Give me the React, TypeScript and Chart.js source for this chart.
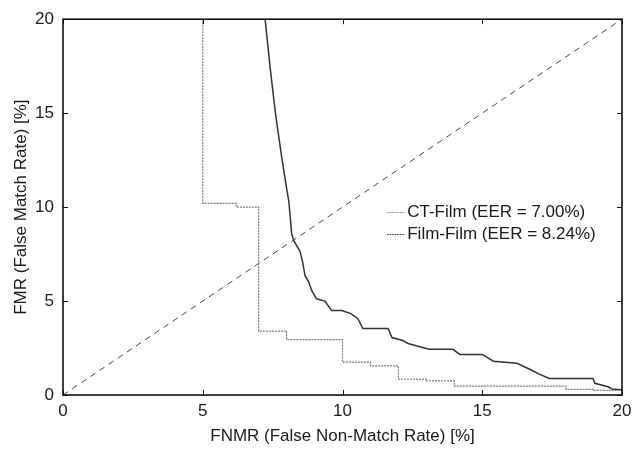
import React, { useEffect, useRef } from "react";
import { Chart, registerables } from "chart.js";

Chart.register(...registerables);

// CT-Film ROC/DET curve (FNMR %, FMR %)
const ctFilmX = [5, 5, 6.2, 6.2, 7.0, 7.0, 8.0, 8.0, 10.0, 10.0, 11.0, 11.0, 12.0, 12.0, 13.0, 13.0, 14.0, 14.0, 18.0, 18.0, 19.0, 19.0, 20];
const ctFilmY = [20, 10.2, 10.2, 10.0, 10.0, 3.4, 3.4, 2.95, 2.95, 1.75, 1.75, 1.55, 1.55, 0.85, 0.85, 0.75, 0.75, 0.47, 0.47, 0.3, 0.3, 0.25, 0.25];

// Film-Film curve
const filmFilmX = [7.23, 7.42, 7.6, 7.82, 8.0, 8.08, 8.18, 8.26, 8.48, 8.57, 8.66, 8.78, 8.9, 9.07, 9.37, 9.61, 9.97, 10.3, 10.55, 10.73, 11.63, 11.77, 12.16, 12.34, 13.1, 13.95, 14.2, 15.0, 15.4, 16.24, 16.7, 17.0, 17.4, 18.96, 19.03, 19.5, 19.64, 20];
const filmFilmY = [20, 17.3, 15.0, 12.7, 11.0, 10.3, 8.6, 8.2, 7.65, 7.1, 6.35, 6.05, 5.55, 5.12, 5.0, 4.5, 4.5, 4.33, 4.06, 3.54, 3.54, 3.06, 2.9, 2.74, 2.43, 2.43, 2.16, 2.16, 1.8, 1.69, 1.37, 1.14, 0.88, 0.88, 0.62, 0.44, 0.32, 0.28];

// EER reference diagonal
const diagX = [0, 20];
const diagY = [0, 20];

const seriesLabels = ["CT-Film (EER = 7.00%)", "Film-Film (EER = 8.24%)"];
const xTicks = [0, 5, 10, 15, 20];
const yTicks = [0, 5, 10, 15, 20];
const xTitle = "FNMR (False Non-Match Rate) [%]";
const yTitle = "FMR (False Match Rate) [%]";

const FONT = "'Liberation Sans', Arial, Helvetica, sans-serif";

const zip = (xs: number[], ys: number[]) => xs.map((x, i) => ({ x, y: ys[i] }));

const framePlugin = {
  id: "frameTicks",
  afterDatasetsDraw(chart: any) {
    const { ctx, chartArea } = chart;
    const xs = chart.scales.x;
    const ys = chart.scales.y;
    ctx.save();
    ctx.strokeStyle = "#111";
    ctx.lineWidth = 1;
    const tl = 5;
    ctx.beginPath();
    xTicks.forEach((v) => {
      const px = Math.round(xs.getPixelForValue(v)) + 0.5;
      ctx.moveTo(px, chartArea.bottom);
      ctx.lineTo(px, chartArea.bottom - tl);
      ctx.moveTo(px, chartArea.top);
      ctx.lineTo(px, chartArea.top + tl);
    });
    yTicks.forEach((v) => {
      const py = Math.round(ys.getPixelForValue(v)) + 0.5;
      ctx.moveTo(chartArea.left, py);
      ctx.lineTo(chartArea.left + tl, py);
      ctx.moveTo(chartArea.right, py);
      ctx.lineTo(chartArea.right - tl, py);
    });
    ctx.stroke();
    ctx.lineWidth = 1.6;
    ctx.strokeRect(chartArea.left, chartArea.top, chartArea.right - chartArea.left, chartArea.bottom - chartArea.top);
    ctx.restore();
  },
};

const legendPlugin = {
  id: "innerLegend",
  afterDraw(chart: any) {
    const { ctx, chartArea } = chart;
    const w = chartArea.right - chartArea.left;
    const x0 = chartArea.left + w * 0.58;
    const y0 = 212;
    const rowH = 22;
    ctx.save();
    ctx.font = `17px ${FONT}`;
    ctx.textBaseline = "middle";
    ctx.fillStyle = "#1a1a1a";
    chart.data.datasets.slice(0, 2).forEach((ds: any, i: number) => {
      const y = y0 + i * rowH;
      ctx.strokeStyle = ds.borderColor;
      ctx.lineWidth = 1.2;
      ctx.setLineDash([1.5, 1]);
      ctx.beginPath();
      ctx.moveTo(x0, y + 0.5);
      ctx.lineTo(x0 + 18, y + 0.5);
      ctx.stroke();
      ctx.setLineDash([]);
      ctx.fillText(ds.label, x0 + 20, y);
    });
    ctx.restore();
  },
};

export default function App() {
  const canvasRef = useRef<HTMLCanvasElement | null>(null);

  useEffect(() => {
    if (!canvasRef.current) return;
    const chart = new Chart(canvasRef.current, {
      type: "line",
      data: {
        datasets: [
          {
            label: seriesLabels[0],
            data: zip(ctFilmX, ctFilmY),
            borderColor: "#7a7a7a",
            borderWidth: 1.2,
            borderDash: [2, 1],
            pointRadius: 0,
            fill: false,
            tension: 0,
          },
          {
            label: seriesLabels[1],
            data: zip(filmFilmX, filmFilmY),
            borderColor: "#333333",
            borderWidth: 1.5,
            pointRadius: 0,
            fill: false,
            tension: 0,
          },
          {
            label: "EER",
            data: zip(diagX, diagY),
            borderColor: "#4a4a4a",
            borderWidth: 1,
            borderDash: [6, 5],
            pointRadius: 0,
            fill: false,
          },
        ],
      },
      options: {
        animation: false,
        responsive: true,
        maintainAspectRatio: false,
        layout: { padding: { left: 0, right: 20, top: 16, bottom: 0 } },
        plugins: { legend: { display: false }, tooltip: { enabled: false } },
        scales: {
          x: {
            type: "linear",
            min: 0,
            max: 20,
            afterBuildTicks: (s: any) => {
              s.ticks = xTicks.map((v) => ({ value: v }));
            },
            afterFit: (s: any) => {
              s.height = 54;
            },
            grid: { display: false, drawTicks: false },
            border: { display: false },
            ticks: { color: "#1a1a1a", font: { family: FONT, size: 17 }, padding: 6, maxRotation: 0 },
            title: {
              display: true,
              text: xTitle,
              color: "#1a1a1a",
              font: { family: FONT, size: 17 },
              padding: { top: 0, bottom: 2 },
            },
          },
          y: {
            type: "linear",
            min: 0,
            max: 20,
            afterBuildTicks: (s: any) => {
              s.ticks = yTicks.map((v) => ({ value: v }));
            },
            afterFit: (s: any) => {
              s.width = 63;
            },
            grid: { display: false, drawTicks: false },
            border: { display: false },
            ticks: { color: "#1a1a1a", font: { family: FONT, size: 17 }, padding: 9 },
            title: {
              display: true,
              text: yTitle,
              color: "#1a1a1a",
              font: { family: FONT, size: 17 },
              padding: { top: 11, bottom: 0 },
            },
          },
        },
      },
      plugins: [framePlugin, legendPlugin],
    });
    return () => chart.destroy();
  }, []);

  return (
    <div style={{ position: "absolute", left: 0, top: 0, width: 642, height: 449, background: "#fff" }}>
      <canvas ref={canvasRef} />
    </div>
  );
}
